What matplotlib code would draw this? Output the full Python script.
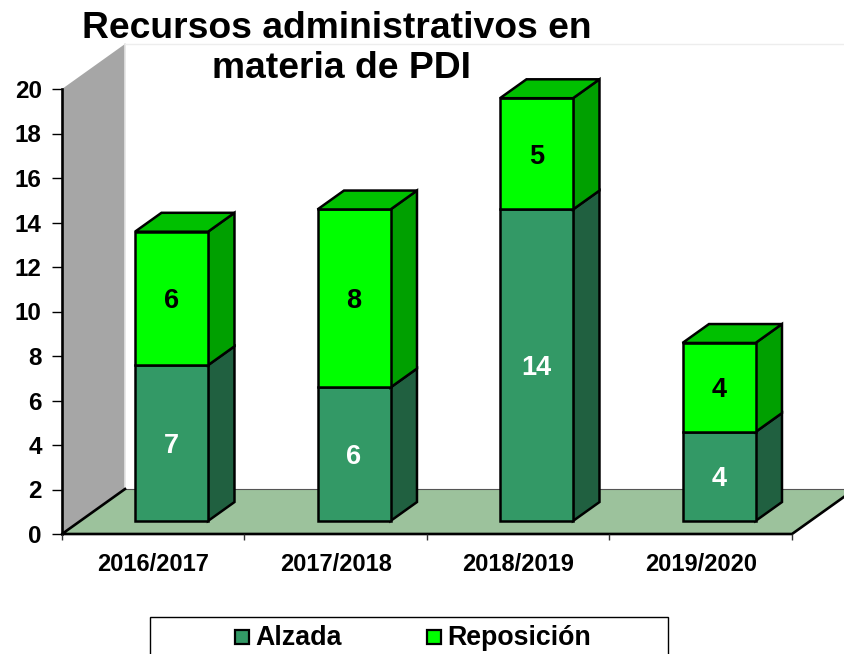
import matplotlib
matplotlib.use("Agg")
import matplotlib.pyplot as plt
from matplotlib.patches import Polygon, Rectangle

plt.rcParams['font.family'] = ['Liberation Sans', 'DejaVu Sans']
plt.rcParams['font.weight'] = 'bold'

years = ["2016/2017", "2017/2018", "2018/2019", "2019/2020"]
alzada = [7, 6, 14, 4]
reposicion = [6, 8, 5, 4]
yticks = list(range(0, 21, 2))

W, H = 845, 654
fig = plt.figure(figsize=(W / 100, H / 100), dpi=100)
ax = fig.add_axes([62 / W, (H - 534) / H, 730 / W, 445 / H])
ax.set_xlim(0, 4)
ax.set_ylim(0, 20)
ax.patch.set_visible(False)
for s in ax.spines.values():
    s.set_visible(False)

# depth of the fake 3d box, in data units
dx = 63 / 182.5
dy = 45 / 22.25
bar_w = 0.4
front = 0.29
back = 0.71

def poly(pts, color, ec='black', lw=1.8, z=2):
    ax.add_patch(Polygon(pts, closed=True, facecolor=color, edgecolor=ec, linewidth=lw,
                         joinstyle='miter', clip_on=False, zorder=z))

# walls and floor
poly([(0, 0), (dx, dy), (dx, 20 + dy), (0, 20)], '#A6A6A6', ec='none', lw=0, z=1)
ax.plot([dx, dx], [dy, 20 + dy], color='#E4E4E4', lw=1.2, clip_on=False, zorder=1)
ax.plot([dx, 4.35], [20 + dy, 20 + dy], color='#EDEDED', lw=1, clip_on=False, zorder=1)
poly([(0, 0), (4, 0), (4 + dx, dy), (dx, dy)], '#9CC29C', ec='none', lw=0, z=1)
ax.plot([dx, 4.35], [dy, dy], color='#555555', lw=0.8, clip_on=False, zorder=1)
ax.plot([dx, 0, 4, 4 + dx], [dy, 0, 0, dy], color='black', lw=1.9, clip_on=False, zorder=1.5)
ax.plot([0, 0], [0, 20], color='black', lw=1.9, clip_on=False, zorder=1.5)


def segment(x0, y0, y1, face, side):
    ox, oy = front * dx, front * dy
    bx, by = (back - front) * dx, (back - front) * dy
    l, r = x0 - bar_w / 2 + ox, x0 + bar_w / 2 + ox
    poly([(r, y0 + oy), (r + bx, y0 + oy + by), (r + bx, y1 + oy + by), (r, y1 + oy)], side)
    poly([(l, y0 + oy), (r, y0 + oy), (r, y1 + oy), (l, y1 + oy)], face)
    return l, r, oy, bx, by


for i, year in enumerate(years):
    c = i + 0.5
    a, b = alzada[i], reposicion[i]
    l, r, oy, bx, by = segment(c, 0, a, '#339966', '#206040')
    ax.text((l + r) / 2, a / 2 + oy - 0.13, str(a), color='white', fontsize=19.5,
            ha='center', va='center', zorder=5)
    segment(c, a, a + b, '#00FF00', '#00A000')
    t = a + b + oy
    poly([(l, t), (r, t), (r + bx, t + by), (l + bx, t + by)], '#00C000')
    ax.text((l + r) / 2, a + b / 2 + oy - 0.13, str(b), color='black', fontsize=19.5,
            ha='center', va='center', zorder=5)

ax.set_xticks(range(5))
ax.set_xticklabels([])
ax.set_xticks([0.5, 1.5, 2.5, 3.5], labels=years, minor=True, fontsize=17)
ax.tick_params(axis='x', which='major', length=4.5, width=1, color='#333333')
ax.tick_params(axis='x', which='minor', length=0, pad=14)
ax.set_yticks(yticks)
ax.tick_params(axis='y', length=7, width=1, color='black', labelsize=17.5, pad=7.5)

fig.text(336.5 / W, 1 - 28 / H, "Recursos administrativos en", fontsize=26.8,
         ha='center', va='center', fontweight='bold', zorder=6)
fig.text(342 / W, 1 - 68 / H, "materia de PDI", fontsize=26.8,
         ha='center', va='center', fontweight='bold', zorder=6)

# legend box runs past the bottom edge of the picture
fig.add_artist(Rectangle((149.5 / W, -10 / H), 519 / W, 47.5 / H, transform=fig.transFigure,
                         facecolor='white', edgecolor='black', linewidth=1))
for x, col, name in [(235, '#339966', 'Alzada'), (427, '#00FF00', 'Reposición')]:
    fig.add_artist(Rectangle((x / W, 1 - 644 / H), 14 / W, 14 / H, transform=fig.transFigure,
                             facecolor=col, edgecolor='black', linewidth=1.6))
    fig.text((x + 20) / W, 1 - 638 / H, name, fontsize=19.3, ha='left', va='center', fontweight='bold')

fig.savefig("out.png", dpi=100)
